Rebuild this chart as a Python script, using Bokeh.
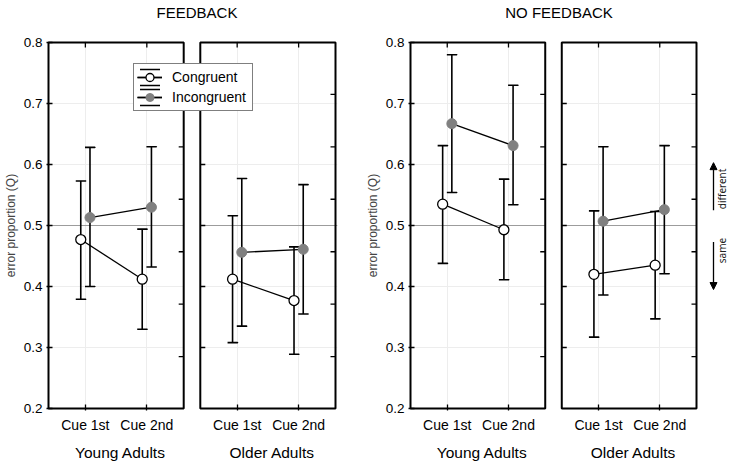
import numpy as np
from bokeh.plotting import figure
from bokeh.models import (Range1d, FixedTicker, LinearAxis, Span, Legend, LegendItem,
                          Arrow, NormalHead, Label)
from bokeh.layouts import row
from bokeh.embed import file_html
from bokeh.resources import INLINE

# ---------------- data ----------------
GROUPS = ["FEEDBACK", "NO FEEDBACK"]
AGES = ["Young Adults", "Older Adults"]
CUES = ["Cue 1st", "Cue 2nd"]
CONDITIONS = ["Congruent", "Incongruent"]
Y_TICKS = [0.2, 0.3, 0.4, 0.5, 0.6, 0.7, 0.8]
RIGHT_TICKS = [0.285, 0.371, 0.457, 0.543, 0.629, 0.715]
REF_LEVEL = 0.5
Y_TITLE = "error proportion (Q)"

# order of cells: Young/Cue 1st, Young/Cue 2nd, Older/Cue 1st, Older/Cue 2nd
FB_CONG_MEAN = [0.477, 0.412, 0.412, 0.377]
FB_CONG_LO = [0.379, 0.330, 0.308, 0.289]
FB_CONG_HI = [0.573, 0.494, 0.516, 0.465]
FB_INC_MEAN = [0.513, 0.530, 0.456, 0.461]
FB_INC_LO = [0.400, 0.432, 0.335, 0.355]
FB_INC_HI = [0.628, 0.629, 0.577, 0.567]

NF_CONG_MEAN = [0.535, 0.493, 0.420, 0.435]
NF_CONG_LO = [0.438, 0.411, 0.317, 0.347]
NF_CONG_HI = [0.631, 0.576, 0.524, 0.523]
NF_INC_MEAN = [0.667, 0.631, 0.507, 0.526]
NF_INC_LO = [0.554, 0.534, 0.386, 0.421]
NF_INC_HI = [0.780, 0.730, 0.629, 0.631]

DIRECTION_LABELS = ["different", "same"]
DIRECTION_ARROWS = [(0.525, 0.603), (0.473, 0.395)]
DIRECTION_TEXT_Y = [0.560, 0.459]

# ---------------- layout / style ----------------
CUE_POS = [0.0, 1.0]
AGE_SHIFT = [0.0, 2.47]
DODGE = [-0.075, 0.075]
PANEL_MARGIN = 0.6
GROUP_LABEL_SHIFT = 0.07
TITLE_CENTER_PX = 148.5
PAD_PX = 2
Y_UNIT = 610.0
FONT = "Liberation Sans"
STYLE = {
    "Congruent": dict(fill_color="white", line_color="black", line_width=1.3),
    "Incongruent": dict(fill_color="#808080", line_color="#808080", line_width=1.0),
}


def make_fig(group, series, border_l, border_r, box_px, extra_right_px,
             with_legend=False, with_arrows=False):
    x_lo = CUE_POS[0] - PANEL_MARGIN
    x_hi = AGE_SHIFT[1] + CUE_POS[1] + PANEL_MARGIN
    unit = box_px / (x_hi - x_lo)
    pad_x = PAD_PX / unit
    pad_r = extra_right_px / unit
    pad_y = PAD_PX / Y_UNIT
    y_lo, y_hi = Y_TICKS[0], Y_TICKS[-1]
    fw = int(round(box_px + PAD_PX + extra_right_px))
    fh = int(round((y_hi - y_lo) * Y_UNIT + 2 * PAD_PX))

    p = figure(frame_width=fw, frame_height=fh, output_backend="svg", toolbar_location=None,
               x_range=Range1d(x_lo - pad_x, x_hi + pad_r),
               y_range=Range1d(y_lo - pad_y, y_hi + pad_y),
               x_axis_location=None, y_axis_location=None, title_location=None,
               min_border_left=border_l, min_border_right=border_r,
               min_border_top=38, min_border_bottom=50)
    p.outline_line_color = None
    p.background_fill_color = "white"
    p.border_fill_color = "white"

    cue_x = [AGE_SHIFT[a] + CUE_POS[c] for a in range(2) for c in range(2)]
    age_center = [AGE_SHIFT[a] + (CUE_POS[0] + CUE_POS[1]) / 2 + GROUP_LABEL_SHIFT
                  for a in range(2)]
    box_left = [AGE_SHIFT[a] + CUE_POS[0] - PANEL_MARGIN for a in range(2)]
    box_right = [AGE_SHIFT[a] + CUE_POS[1] + PANEL_MARGIN for a in range(2)]

    # group title (as a label-only axis above the frame)
    title_x = x_lo + TITLE_CENTER_PX / unit
    tax = LinearAxis(ticker=FixedTicker(ticks=[title_x]),
                     major_label_overrides={title_x: group},
                     axis_line_color=None, major_tick_line_color=None,
                     major_tick_in=0, major_tick_out=0, minor_tick_in=0, minor_tick_out=0,
                     minor_tick_line_color=None, major_label_standoff=20,
                     major_label_text_font=FONT, major_label_text_font_size="15px",
                     major_label_text_color="black")
    p.add_layout(tax, "above")

    # grid
    p.xgrid.ticker = FixedTicker(ticks=cue_x)
    p.ygrid.ticker = FixedTicker(ticks=Y_TICKS[1:-1])
    p.grid.grid_line_color = "#ededed"
    p.grid.grid_line_width = 1

    p.add_layout(Span(location=REF_LEVEL, dimension="width", line_color="#9c9c9c",
                      line_width=1.2, level="underlay"))

    # axes
    yax = LinearAxis(ticker=FixedTicker(ticks=Y_TICKS), axis_label=Y_TITLE,
                     axis_line_color=None, major_tick_in=6, major_tick_out=0,
                     minor_tick_in=0, minor_tick_out=0,
                     major_tick_line_width=1.3, minor_tick_line_color=None,
                     major_label_standoff=4, major_label_text_font=FONT,
                     major_label_text_font_size="13.5px", major_label_text_color="black",
                     axis_label_text_font=FONT, axis_label_text_font_size="12px",
                     axis_label_text_font_style="normal", axis_label_standoff=3)
    p.add_layout(yax, "left")

    xax = LinearAxis(ticker=FixedTicker(ticks=cue_x),
                     major_label_overrides={x: CUES[i % 2] for i, x in enumerate(cue_x)},
                     axis_line_color=None, major_tick_in=6, major_tick_out=0,
                     minor_tick_in=0, minor_tick_out=0,
                     major_tick_line_width=1.3, minor_tick_line_color=None,
                     major_label_standoff=6, major_label_text_font=FONT,
                     major_label_text_font_size="14px", major_label_text_color="black")
    p.add_layout(xax, "below")

    gax = LinearAxis(ticker=FixedTicker(ticks=age_center),
                     major_label_overrides={x: AGES[i] for i, x in enumerate(age_center)},
                     axis_line_color=None, major_tick_line_color=None,
                     major_tick_in=0, major_tick_out=0, minor_tick_in=0, minor_tick_out=0,
                     minor_tick_line_color=None, major_label_standoff=8,
                     major_label_text_font=FONT, major_label_text_font_size="15.5px",
                     major_label_text_color="black")
    p.add_layout(gax, "below")

    # gap between panels (and area right of the panels) and the panel boxes
    p.quad(left=[box_right[0]], right=[box_left[1]], bottom=[y_lo - pad_y], top=[y_hi + pad_y],
           fill_color="white", line_color=None)
    if extra_right_px > PAD_PX:
        p.quad(left=[box_right[1]], right=[x_hi + pad_r], bottom=[y_lo - pad_y],
               top=[y_hi + pad_y], fill_color="white", line_color=None)
    p.quad(left=box_left, right=box_right, bottom=[y_lo] * 2, top=[y_hi] * 2,
           fill_color=None, line_color="black", line_width=2)

    # inner tick marks on panel edges
    tick_kw = dict(length=5, length_units="screen", line_color="black", line_width=1.3)
    p.ray(x=[box_right[0]] * len(RIGHT_TICKS), y=RIGHT_TICKS, angle=np.pi, **tick_kw)
    p.ray(x=[box_right[1]] * len(RIGHT_TICKS), y=RIGHT_TICKS, angle=np.pi, **tick_kw)
    p.ray(x=[box_left[1]] * (len(Y_TICKS) - 2), y=Y_TICKS[1:-1], angle=0, **tick_kw)
    p.ray(x=cue_x, y=[y_hi] * len(cue_x), angle=-np.pi / 2, **tick_kw)

    # data
    rend = {}
    for k, cond in enumerate(CONDITIONS):
        mean, lo, hi = series[cond]
        xs = [x + DODGE[k] for x in cue_x]
        seg = p.segment(x0=xs, y0=lo, x1=xs, y1=hi, line_color="black", line_width=1.6)
        caps = p.rect(x=xs + xs, y=lo + hi, width=10, height=0.01, width_units="screen",
                      height_units="screen", fill_color=None, line_color="black",
                      line_width=1.6, line_dash="20 16")
        rend[cond] = [seg, caps]
    for k, cond in enumerate(CONDITIONS):
        mean, lo, hi = series[cond]
        xs = [x + DODGE[k] for x in cue_x]
        conn = p.segment(x0=[xs[0], xs[2]], y0=[mean[0], mean[2]],
                         x1=[xs[1], xs[3]], y1=[mean[1], mean[3]],
                         line_color="black", line_width=1.3)
        rend[cond].append(conn)
    for k, cond in enumerate(CONDITIONS):
        mean, lo, hi = series[cond]
        xs = [x + DODGE[k] for x in cue_x]
        pts = p.scatter(x=xs, y=mean, size=10, marker="circle", **STYLE[cond])
        rend[cond].append(pts)

    if with_legend:
        legend = Legend(items=[LegendItem(label=c, renderers=rend[c]) for c in CONDITIONS],
                        location=(87, 299), orientation="vertical",
                        padding=3, spacing=0, margin=0,
                        glyph_width=25, glyph_height=20, label_standoff=10,
                        label_width=77, label_height=20,
                        label_text_font=FONT, label_text_font_size="14px",
                        label_text_color="black",
                        border_line_color="black", border_line_width=1.3,
                        background_fill_color="white", background_fill_alpha=1.0)
        p.add_layout(legend)

    if with_arrows:
        edge = x_hi + PAD_PX / unit
        ax = edge + 15 / unit
        tx = edge + 23 / unit
        for (y0, y1) in DIRECTION_ARROWS:
            p.add_layout(Arrow(x_start=ax, y_start=y0, x_end=ax, y_end=y1,
                               end=NormalHead(size=7, fill_color="black",
                                              line_color="black", line_width=1),
                               line_color="black", line_width=1.3))
        for txt, ty in zip(DIRECTION_LABELS, DIRECTION_TEXT_Y):
            p.add_layout(Label(x=tx, y=ty, text=txt, angle=np.pi / 2,
                               text_align="center", text_baseline="middle",
                               text_font="Noto Sans", text_font_size="10px",
                               text_color="#222222"))
    return p


fb = {"Congruent": (FB_CONG_MEAN, FB_CONG_LO, FB_CONG_HI),
      "Incongruent": (FB_INC_MEAN, FB_INC_LO, FB_INC_HI)}
nf = {"Congruent": (NF_CONG_MEAN, NF_CONG_LO, NF_CONG_HI),
      "Incongruent": (NF_INC_MEAN, NF_INC_LO, NF_INC_HI)}

p1 = make_fig(GROUPS[0], fb, border_l=40, border_r=22, box_px=287, extra_right_px=PAD_PX,
              with_legend=True)
p2 = make_fig(GROUPS[1], nf, border_l=49, border_r=0, box_px=286, extra_right_px=31,
              with_arrows=True)

layout = row(p1, p2)
open("out.html", "w").write(file_html(layout, INLINE))
